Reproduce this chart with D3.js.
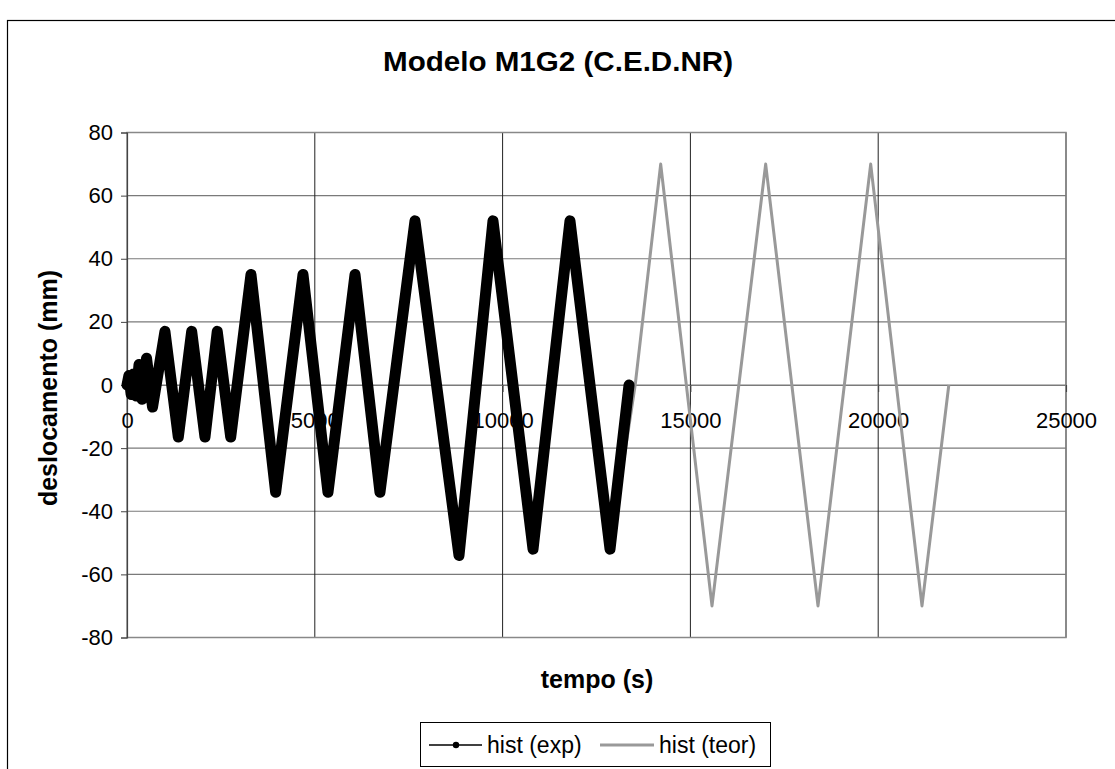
<!DOCTYPE html>
<html><head><meta charset="utf-8">
<script src="https://cdn.jsdelivr.net/npm/d3@7"></script>
<style>html,body{margin:0;padding:0;background:#fff;}svg{display:block;font-family:"Liberation Sans",Arial,sans-serif;}</style>
</head><body><div id="chart"></div>
<script>
// Data
const title = "Modelo M1G2 (C.E.D.NR)";
const xTitle = "tempo (s)";
const yTitle = "deslocamento (mm)";
const seriesNames = ["hist (exp)", "hist (teor)"];
const xTicks = [0, 5000, 10000, 15000, 20000, 25000];
const yTicks = [-80, -60, -40, -20, 0, 20, 40, 60, 80];
// experimental history: turning points (time s, displacement mm)
const expTime = [0, 50, 110, 170, 240, 320, 400, 520, 680, 1010, 1366, 1722, 2076, 2403, 2761, 3301, 3958, 4686, 5351, 6071, 6735, 7667, 8839, 9744, 10810, 11794, 12860, 13366];
const expDisp = [0, 3, -3, 3.5, -3.5, 6.5, -4.5, 8.5, -7, 17, -16.5, 17, -16.5, 17, -16.5, 35, -34, 35, -34, 35, -34, 52, -54, 52, -52, 52, -52, 0];
// theoretical history: turning points (time s, displacement mm)
const teorTime = [0, 50, 110, 170, 240, 320, 400, 520, 680, 1010, 1366, 1722, 2076, 2403, 2761, 3301, 3958, 4686, 5351, 6071, 6735, 7667, 8839, 9744, 10810, 11794, 12860, 13530, 14209, 15575, 17004, 18397, 19800, 21166, 21880];
const teorDisp = [0, 2.5, -2.5, 2.5, -2.5, 5, -5, 7.5, -7.5, 17.5, -17.5, 17.5, -17.5, 17.5, -17.5, 35, -35, 35, -35, 35, -35, 52.5, -52.5, 52.5, -52.5, 52.5, -52.5, 0, 70, -70, 70, -70, 70, -70, 0];

const W = 1115, H = 769;
const L = 127, R = 1066, T = 132.5, B = 637.5;
const FONT = "Liberation Sans, Arial, sans-serif";

const svg = d3.select("#chart").append("svg").attr("width", W).attr("height", H);

// outer chart border
svg.append("rect").attr("x", 7.5).attr("y", 20.5).attr("width", 1130).attr("height", 800)
  .attr("fill", "#fff").attr("stroke", "#000").attr("stroke-width", 1.2);

const x = d3.scaleLinear().domain([0, 25000]).range([L, R]);
const y = d3.scaleLinear().domain([-80, 80]).range([B, T]);

// horizontal gridlines
svg.append("g").selectAll("line").data(yTicks).join("line")
  .attr("x1", L).attr("x2", R).attr("y1", d => y(d)).attr("y2", d => y(d))
  .attr("stroke", "#7a7a7a").attr("stroke-width", 1.1);
// vertical gridlines
svg.append("g").selectAll("line").data(xTicks.slice(1)).join("line")
  .attr("x1", d => x(d)).attr("x2", d => x(d)).attr("y1", T).attr("y2", B)
  .attr("stroke", "#222").attr("stroke-width", 1);
// plot border
svg.append("rect").attr("x", L).attr("y", T).attr("width", R - L).attr("height", B - T)
  .attr("fill", "none").attr("stroke", "#888").attr("stroke-width", 1.5);

// y axis
const yAxis = svg.append("g").attr("transform", `translate(${L},0)`)
  .call(d3.axisLeft(y).tickValues(yTicks).tickSize(6).tickPadding(8).tickFormat(d => String(d)));
yAxis.select(".domain").attr("stroke", "#444").attr("stroke-width", 1.2);
yAxis.selectAll(".tick line").attr("stroke", "#444");
yAxis.selectAll("text").attr("font-size", 22).attr("fill", "#000").attr("font-family", FONT);

// x axis crossing at 0
const xAxis = svg.append("g").attr("transform", `translate(0,${y(0)})`)
  .call(d3.axisBottom(x).tickValues(xTicks).tickSize(7).tickPadding(20).tickFormat(d => String(d)));
xAxis.select(".domain").attr("stroke", "#7a7a7a").attr("stroke-width", 1.2);
xAxis.selectAll(".tick line").attr("stroke", "#444");
xAxis.selectAll("text").attr("font-size", 22).attr("fill", "#000").attr("font-family", FONT);

const line = d3.line().x(d => x(d[0])).y(d => y(d[1]));
const teor = teorTime.map((t, i) => [t, teorDisp[i]]);
const exp = expTime.map((t, i) => [t, expDisp[i]]);

svg.append("path").datum(teor).attr("d", line).attr("fill", "none")
  .attr("stroke", "#999").attr("stroke-width", 3).attr("stroke-linejoin", "round");
svg.append("path").datum(exp).attr("d", line).attr("fill", "none")
  .attr("stroke", "#000").attr("stroke-width", 11).attr("stroke-linejoin", "round").attr("stroke-linecap", "round");

// titles
svg.append("text").attr("x", 558).attr("y", 71).attr("text-anchor", "middle")
  .attr("font-size", 28).attr("font-weight", "bold")
  .attr("textLength", 350).attr("lengthAdjust", "spacingAndGlyphs").text(title);
svg.append("text").attr("x", 597).attr("y", 688).attr("text-anchor", "middle")
  .attr("font-size", 25).attr("font-weight", "bold").text(xTitle);
svg.append("text").attr("transform", `translate(57,${y(0) + 3}) rotate(-90)`).attr("text-anchor", "middle")
  .attr("font-size", 25).attr("font-weight", "bold").text(yTitle);

// legend
const lg = svg.append("g");
lg.append("rect").attr("x", 420.5).attr("y", 722.5).attr("width", 350).attr("height", 44)
  .attr("fill", "#fff").attr("stroke", "#000").attr("stroke-width", 1);
lg.append("line").attr("x1", 429).attr("x2", 482).attr("y1", 745).attr("y2", 745).attr("stroke", "#000").attr("stroke-width", 1.5);
lg.append("circle").attr("cx", 456).attr("cy", 745).attr("r", 3.2).attr("fill", "#000");
lg.append("text").attr("x", 487).attr("y", 745).attr("dy", "0.35em").attr("font-size", 23).text(seriesNames[0]);
lg.append("line").attr("x1", 600).attr("x2", 654).attr("y1", 745).attr("y2", 745).attr("stroke", "#999").attr("stroke-width", 3);
lg.append("text").attr("x", 659).attr("y", 745).attr("dy", "0.35em").attr("font-size", 23).text(seriesNames[1]);
</script></body></html>
